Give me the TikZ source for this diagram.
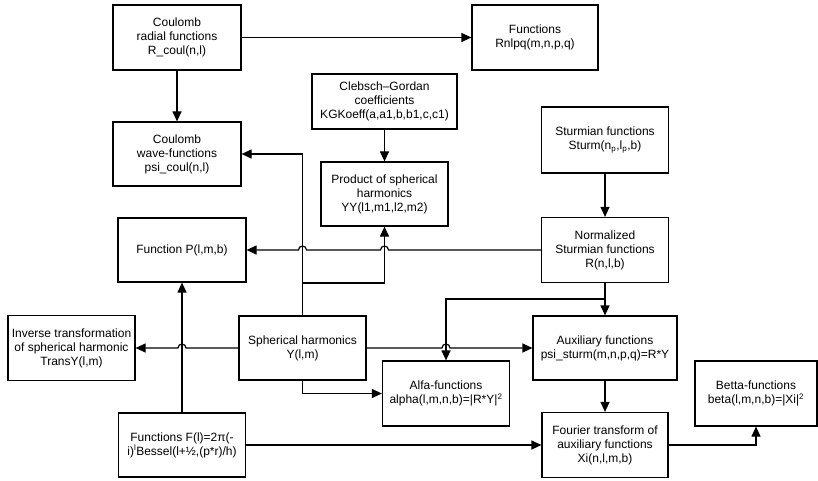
\documentclass[tikz,border=0pt]{standalone}
\usepackage{fontspec}
\setmainfont{Liberation Sans}
\usetikzlibrary{arrows.meta}
\begin{document}
\begin{tikzpicture}[x=1pt,y=-1pt,
  box/.style={draw, line width=1.2pt, fill=white, align=center, inner sep=2pt,
    font=\fontsize{12}{14}\selectfont},
  arr/.style={line width=1.2pt, -{Triangle[length=10pt,width=9pt]}},
  hop/.style={line width=1.2pt}]
\useasboundingbox (0,0) rectangle (818,481);

% boxes
\node[box, minimum width=128pt, minimum height=65pt] (cr) at (177,37.5) {Coulomb\\radial functions\\R\_coul(n,l)};
\node[box, minimum width=128pt, minimum height=64pt] (cw) at (177,154) {Coulomb\\wave-functions\\psi\_coul(n,l)};
\node[box, minimum width=126pt, minimum height=65pt] (rn) at (535,37.5) {Functions\\Rnlpq(m,n,p,q)};
\node[box, minimum width=145pt, minimum height=55pt] (cg) at (384.5,101.5) {Clebsch–Gordan\\coefficients\\KGKoeff(a,a1,b,b1,c,c1)};
\node[box, minimum width=127pt, minimum height=64pt] (yy) at (384.5,194) {Product of spherical\\harmonics\\YY(l1,m1,l2,m2)};
\node[box, minimum width=127pt, minimum height=66pt] (st) at (605,140) {Sturmian functions\\Sturm(n\textsubscript{p},l\textsubscript{p},b)};
\node[box, minimum width=127pt, minimum height=65pt] (ns) at (605,250) {Normalized\\Sturmian functions\\R(n,l,b)};
\node[box, minimum width=128pt, minimum height=64pt] (pf) at (182,250) {Function P(l,m,b)};
\node[box, minimum width=127pt, minimum height=65pt] (inv) at (71.5,348) {Inverse transformation\\of spherical harmonic\\TransY(l,m)};
\node[box, minimum width=127pt, minimum height=64pt] (sh) at (302.5,348) {Spherical harmonics\\Y(l,m)};
\node[box, minimum width=127pt, minimum height=65pt] (al) at (446,393.5) {Alfa-functions\\alpha(l,m,n,b)=|R*Y|\textsuperscript{2}};
\node[box, minimum width=144pt, minimum height=64pt] (aux) at (605,348) {Auxiliary functions\\psi\_sturm(m,n,p,q)=R*Y};
\node[box, minimum width=122pt, minimum height=65pt] (be) at (756,393.5) {Betta-functions\\beta(l,m,n,b)=|Xi|\textsuperscript{2}};
\node[box, minimum width=126pt, minimum height=65pt] (ft) at (605,445) {Fourier transform of\\auxiliary functions\\Xi(n,l,m,b)};
\node[box, minimum width=127pt, minimum height=64pt] (fl) at (182,445) {Functions F(l)=2π(-\\i)\textsuperscript{l}Bessel(l+½,(p*r)/h)};

% branch points
\coordinate (b1) at (302.5,283);
\coordinate (b2) at (605,299);

% connectors
\draw[arr] (cr.east) -- (rn.west);
\draw[arr] (cr.south) -- (cw.north);
\draw[arr] (cg.south) -- (yy.north);
\draw[arr] (st.south) -- (ns.north);
\draw[arr] (sh.north) |- (cw.east);
\draw[arr] (b1) -| (yy.south);
\draw[arr] (ns.west) -- (388.5,250) arc[start angle=0,end angle=180,radius=4pt]
  -- (306.5,250) arc[start angle=0,end angle=180,radius=4pt] -- (pf.east);
\draw[arr] (fl.north) -- (pf.south);
\draw[arr] (sh.west) -- (186,348) arc[start angle=0,end angle=180,radius=4pt] -- (inv.east);
\draw[arr] (sh.east) -- (442,348) arc[start angle=180,end angle=0,radius=4pt] -- (aux.west);
\draw[arr] (ns.south) -- (aux.north);
\draw[arr] (b2) -| (al.north);
\draw[arr] (sh.south) |- (al.west);
\draw[arr] (aux.south) -- (ft.north);
\draw[arr] (fl.east) -- (ft.west);
\draw[arr] (ft.east) -| (be.south);
\end{tikzpicture}
\end{document}
